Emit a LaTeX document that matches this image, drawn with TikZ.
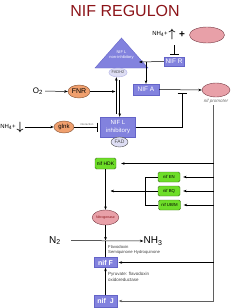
\documentclass[tikz,border=0pt]{standalone}
\usepackage{amsmath}
\usepackage{fontspec}
\setmainfont{Liberation Sans}
\usetikzlibrary{arrows.meta, positioning, shapes.geometric}
\definecolor{titleRed}{RGB}{140,20,25}
\definecolor{nifBlue}{RGB}{130,130,222}
\definecolor{nifEdge}{RGB}{100,100,200}
\definecolor{pinkFill}{RGB}{232,160,168}
\definecolor{pinkEdge}{RGB}{120,60,70}
\definecolor{orangeFill}{RGB}{240,160,110}
\definecolor{orangeEdge}{RGB}{130,80,50}
\definecolor{geneGreen}{RGB}{110,222,40}
\definecolor{geneEdge}{RGB}{60,110,30}
\definecolor{fadFill}{RGB}{222,222,244}
\definecolor{lineGray}{RGB}{95,95,95}
\newcommand{\fsz}[1]{\fontsize{#1}{\dimexpr#1pt*13/10\relax}\selectfont}

\begin{document}
\begin{tikzpicture}[x=1pt, y=-1pt,
    nifbox/.style={draw=nifEdge, fill=nifBlue, text=white, inner sep=0pt,
                   font=\fsz{6.5}},
    gene/.style={draw=geneEdge, fill=geneGreen, rounded corners=1.5pt,
                 inner sep=0pt, minimum width=22pt, minimum height=10pt,
                 font=\fsz{4.3}},
    pinkell/.style={ellipse, draw=pinkEdge, fill=pinkFill, inner sep=0pt},
    orangeell/.style={ellipse, draw=orangeEdge, fill=orangeFill, inner sep=0pt},
    cofac/.style={ellipse, fill=fadFill, inner sep=0pt},
    lbl/.style={inner sep=0pt},
    arr/.style={line width=0.5pt, -{Stealth[length=3.5pt, width=2.6pt]}},
    inh/.style={line width=0.5pt, -{Bar[width=9pt, line width=1pt]}}
  ]
  \useasboundingbox (0,0) rectangle (250,308);

  % Title
  \node[font=\fsz{16}, text=titleRed] (title) at (125,11) {NIF REGULON};

  % Ammonium high / NIF R
  \node[lbl, font=\fsz{6}] (nhUp) at (160,34) {NH\textsubscript{4}+};
  \node[lbl, font=\fsz{12}] (upA) at (172,34) {$\boldsymbol{\uparrow}$};
  \node[lbl, font=\fsz{10}\bfseries] (plus) at (182,35) {+};
  \node[pinkell, minimum width=35pt, minimum height=16pt] (partner) at (207,35) {};
  \node[nifbox, minimum width=20pt, minimum height=9pt] (nifR) at (174,61.5) {NIF R};
  \coordinate (nhR) at (174,45);
  \draw[inh, shorten >=2pt] (nhR) -- (nifR.north);

  % NIF L non-inhibitory
  \draw[fill=nifBlue, draw=nifEdge] (95,68) -- (121.5,38) -- (148,68) -- cycle;
  \node[lbl, text=white, font=\fsz{4}, align=center] (nonInh) at (121.5,55)
    {NIF L\\non-inhibitory};
  \node[cofac, draw=nifEdge!50, minimum width=18pt, minimum height=9pt,
        font=\fsz{4}, text=black!70] (fadh) at (118,72.5) {FADH2};
  \coordinate (triR) at (139,62);
  \draw[arr] (nifR.west) -- (triR);

  % NIF A and promoter
  \node[nifbox, minimum width=26pt, minimum height=11pt] (nifA) at (146,89.5) {NIF A};
  \node[pinkell, minimum width=28pt, minimum height=14pt] (prom) at (216,90) {};
  \node[lbl, font=\fsz{4.5}\itshape, text=black!60] (promLbl) at (216,101) {nif promoter};
  \coordinate (brA) at (nifA.north |- nifR.west);
  \draw[arr] (brA) -- (nifA.north);
  \draw[arr] (nifA.east) -- (prom.west);

  % O2 / FNR
  \node[lbl, font=\fsz{8}] (o2) at (38,91) {O\textsubscript{2}};
  \node[orangeell, minimum width=22pt, minimum height=13pt, font=\fsz{7}] (fnr) at (79,91.5) {FNR};
  \draw[arr, shorten <=2pt] (o2.east) -- (fnr.west);

  % NIF L inhibitory
  \node[nifbox, minimum width=35pt, minimum height=20pt, align=center,
        font=\fsz{6}] (nifLi) at (118,127) {NIF L\\inhibitory};
  \node[cofac, draw=black!70, minimum width=17pt, minimum height=10pt,
        font=\fsz{5}, text=black!70] (fad) at (119.5,142) {FAD};
  \draw[arr, shorten <=3pt] ([xshift=-1.7pt]nifLi.north) -- ([xshift=-1.7pt]fadh.south);
  \draw[arr, shorten <=3pt] ([xshift=1.7pt]fadh.south) -- ([xshift=1.7pt]nifLi.north);
  \coordinate (eqIn) at ([xshift=-2.5pt]fadh.south |- fnr.east);
  \draw[arr] (fnr.east) -- (eqIn);
  \coordinate (tbar) at (182,92.5);
  \draw[inh] (nifLi.east) -| (tbar);

  % Ammonium low / glnk
  \node[lbl, font=\fsz{6}] (nhDown) at (8,127) {NH\textsubscript{4}+};
  \node[lbl, font=\fsz{12}] (dnA) at (20,127) {$\boldsymbol{\downarrow}$};
  \node[orangeell, minimum width=20pt, minimum height=12pt, font=\fsz{6}] (glnk) at (64,127) {glnk};
  \draw[arr, shorten <=1pt] (dnA.east) -- (glnk.west);
  \draw[inh, shorten >=2pt] (glnk.east) -- (nifLi.west);
  \node[lbl, font=\fsz{2.8}, text=black!60] (intLbl) at (87,124.5) {interaction};

  % nif genes
  \coordinate (pv) at (213.5,105);
  \node[gene, font=\fsz{5}, minimum width=21pt, minimum height=11pt] (nifHDK) at (105.5,163.5) {nif HDK};
  \node[gene] (nifEN) at (169,177) {nif EN};
  \node[gene] (nifBQ) at (169,191) {nif BQ};
  \node[gene] (nifUB) at (169.5,205) {nif UB/M};
  \node[pinkell, minimum width=26pt, minimum height=15pt, font=\fsz{3.5},
        text=titleRed] (nitro) at (105.5,217.5) {Nitrogenase};
  \draw[arr] (nifHDK.south) -- (nitro.north);
  \draw[line width=0.5pt] (nifEN.west) -- ++(-13,0) |- (nifUB.west);
  \draw[arr, shorten >=5pt] (nifBQ.west) -- (nifHDK.south |- nifBQ.west);

  % N2 fixation
  \node[lbl, font=\fsz{10}] (n2) at (55,240.5) {N\textsubscript{2}};
  \node[lbl, font=\fsz{10}] (nh3) at (153,241) {NH\textsubscript{3}};
  \draw[arr, shorten <=10pt] (n2.east) -- (nh3.west);
  \coordinate (cross) at (105.5,240.5);
  \node[lbl, anchor=north west, align=left, font=\fsz{4.2}, text=black!75] (flav) at (108,245)
    {Flavodoxin\\Semiquinone Hydroquinone};
  \node[nifbox, font=\fsz{7}\bfseries, minimum width=23pt, minimum height=10pt] (nifF) at (105.5,262.5) {nif F};
  \node[nifbox, font=\fsz{7}\bfseries, minimum width=23pt, minimum height=12pt] (nifJ) at (105.5,301) {nif~~J};
  \node[lbl, anchor=north west, align=left, font=\fsz{4.5}, text=black!75] (pfor) at (108,272)
    {Pyruvate: flavodoxin\\oxidoreductase};
  \draw[arr] (nitro.south) -- (cross);
  \draw[line width=0.5pt] (nifF.north) -- (cross);
  \draw[arr] (nifJ.north) -- (nifF.south);

  % promoter trunk
  \draw[arr, draw=lineGray, shorten >=1.5pt] (pv) |- (nifJ.east);
  \foreach \g/\s in {nifHDK/5, nifEN/3, nifBQ/3, nifUB/3, nifF/1.5}
    \draw[arr, shorten >=\s pt] (pv |- \g.east) -- (\g.east);
\end{tikzpicture}
\end{document}
